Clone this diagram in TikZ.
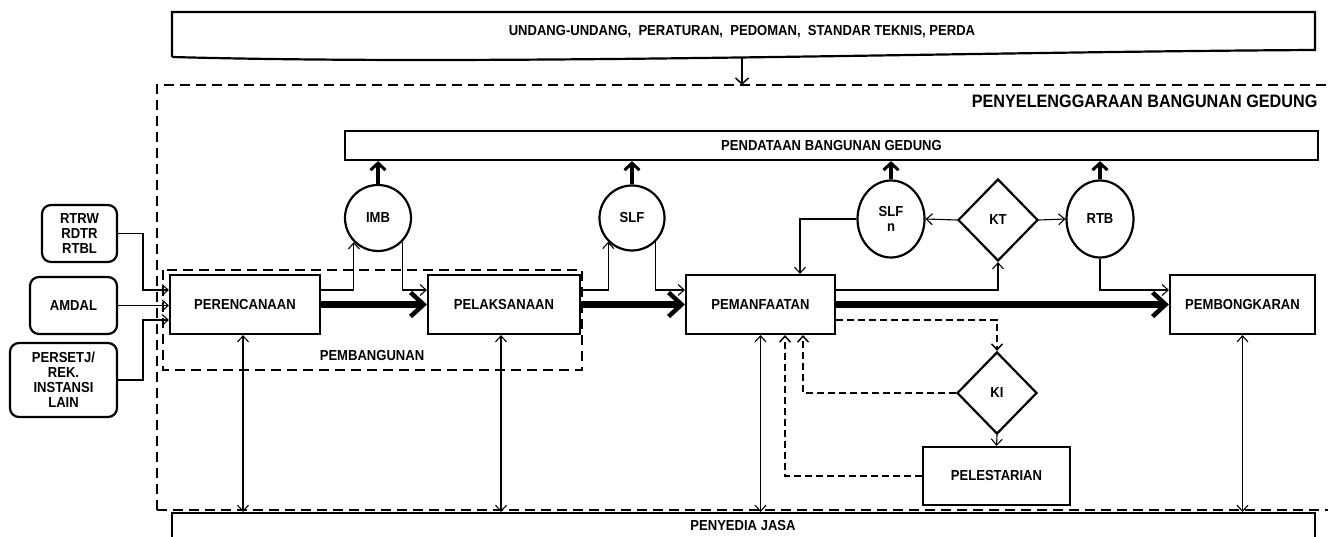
\documentclass[tikz,border=0pt]{standalone}
\usepackage{fontspec}
\setmainfont{Liberation Sans}
\newfontfamily\narrowsans[FakeStretch=0.9]{Liberation Sans}
\usetikzlibrary{arrows.meta,shapes.geometric,calc}
\newcommand\lblfont{\narrowsans\fontsize{14.5}{15}\selectfont\bfseries}
\begin{document}
\begin{tikzpicture}[x=1pt,y=-1pt,
  box/.style={draw, line width=2.2pt, minimum height=59pt, inner sep=0pt, align=center, font=\lblfont},
  rbox/.style={box, rounded corners=9pt},
  circ/.style={draw, line width=2.2pt, ellipse, inner sep=0pt, align=center, font=\lblfont},
  dia/.style={draw, line width=2.2pt, diamond, inner sep=0pt, minimum width=80pt, minimum height=82pt, font=\lblfont},
  arr/.style={line width=1.1pt, -{Straight Barb[length=6pt,width=11pt]}},
  darr/.style={arr, line width=1.5pt, dash pattern=on 7pt off 4pt},
  biarr/.style={line width=1.1pt, {Straight Barb[length=6pt,width=11pt]}-{Straight Barb[length=6pt,width=11pt]}},
  tharr/.style={line width=6.5pt, -{Straight Barb[length=13pt,width=24pt,line width=4.5pt]}},
  uparr/.style={line width=4pt, -{Straight Barb[length=7pt,width=15pt,line width=3pt]}},
  bigdash/.style={line width=2.5pt, dash pattern=on 10pt off 6pt}
]
\useasboundingbox (0,0) rectangle (1328,537);
\fill[white] (0,0) rectangle (1328,537);

% top box with wavy bottom
\draw[line width=2.2pt] (172,57) -- (172,12) -- (1315,12) -- (1315,50) .. controls (950,52) and (500,66) .. (172,57);
\node[font=\lblfont] (law) at (742,32) {UNDANG-UNDANG,\ \ PERATURAN,\ \ PEDOMAN,\ \ STANDAR TEKNIS, PERDA};
\coordinate (lawb) at (742,58);
\coordinate (pbgt) at (742,85);

% big dashed region
\draw[bigdash] (157,510) -- (157,85) -- (1340,85);
\draw[bigdash] (157,510) -- (1340,510);
\node[font=\narrowsans\fontsize{18}{20}\selectfont\bfseries, anchor=east] (pbg) at (1321,101) {PENYELENGGARAAN BANGUNAN GEDUNG};
\draw[line width=1.5pt, -{Straight Barb[length=6pt,width=13pt]}] (lawb) -- (pbgt);

% pembangunan dashed region
\draw[bigdash] (163,270) rectangle (582,370);
\node[font=\lblfont] (pbn) at (372,356) {PEMBANGUNAN};

% pendataan
\node[box, minimum width=973pt, minimum height=29pt] (pend) at (831.5,145.5) {PENDATAAN BANGUNAN GEDUNG};

% penyedia jasa
\node[box, minimum width=1143pt, minimum height=32pt, anchor=north] (pj) at (743.5,512) {};
\node[font=\lblfont] (pjt) at (743,526) {PENYEDIA JASA};

% left inputs
\node[rbox, minimum width=75pt, minimum height=57pt] (rtrw) at (79.5,233.5) {RTRW\\RDTR\\RTBL};
\node[rbox, minimum width=87pt, minimum height=57pt] (amdal) at (73.5,305.5) {AMDAL};
\node[rbox, minimum width=107pt, minimum height=74pt] (pers) at (63.5,380) {PERSETJ/\\REK.\\INSTANSI\\LAIN};

% main boxes
\node[box, minimum width=150pt] (per) at (245,304.5) {PERENCANAAN};
\node[box, minimum width=152pt] (pel) at (504,304.5) {PELAKSANAAN};
\node[box, minimum width=149pt] (pem) at (760.5,304.5) {PEMANFAATAN};
\node[box, minimum width=145pt] (pbk) at (1242.5,304.5) {PEMBONGKARAN};
\node[box, minimum width=147pt, minimum height=58pt] (pls) at (996.5,476) {PELESTARIAN};

% circles and diamonds
\node[circ, minimum width=66pt, minimum height=66pt] (imb) at (378,218) {IMB};
\node[circ, minimum width=65pt, minimum height=65pt] (slf) at (632,218) {SLF};
\node[circ, minimum width=67pt, minimum height=77pt] (slfn) at (891,219) {SLF\\n};
\node[circ, minimum width=67pt, minimum height=77pt] (rtb) at (1100,219) {RTB};
\node[dia] (kt) at (998,220) {KT};
\node[dia] (ki) at (997,393) {KI};

% inputs to perencanaan
\draw[arr] (rtrw.east) -| (143,290) -- ([yshift=14.5pt]per.west);
\draw[arr] (amdal.east) -- (amdal.east -| per.west);
\draw[arr] (pers.east) -| (143,320) -- ([yshift=-15.5pt]per.west);

% main flow
\draw[tharr] (per.east) -- (pel.west);
\draw[tharr] (pel.east) -- (pem.west);
\draw[tharr] (pem.east) -- (pbk.west);

\draw[arr] ([yshift=14.5pt]per.east) -| (imb.south west);
\draw[arr] (imb.south east) |- ([yshift=14.5pt]pel.west);
\draw[arr] ([yshift=14.5pt]pel.east) -| (slf.south west);
\draw[arr] (slf.south east) |- ([yshift=14.5pt]pem.west);
\draw[arr] ([yshift=14.5pt]pem.east) -| (kt.south);
\draw[arr] (kt.west) -- (slfn.east);
\draw[arr] (kt.east) -- (rtb.west);
\draw[arr] (slfn.west) -| ([xshift=39.5pt]pem.north);
\draw[arr] (rtb.south) |- ([yshift=14.5pt]pbk.west);

% conservation loop
\draw[darr] ([yshift=-15.5pt]pem.east) -| (ki.north);
\draw[darr] (ki.west) -| ([xshift=42.5pt]pem.south);
\draw[arr] (ki.south) -- (pls.north);
\draw[darr] (pls.west) -| ([xshift=24.5pt]pem.south);

% to pendataan
\draw[uparr] (imb.north) -- (imb.north |- pend.south);
\draw[uparr] (slf.north) -- (slf.north |- pend.south);
\draw[uparr] (slfn.north) -- (slfn.north |- pend.south);
\draw[uparr] (rtb.north) -- (rtb.north |- pend.south);

% penyedia jasa links
\draw[biarr] ([xshift=-2pt]per.south) -- ([xshift=-2pt]per.south |- pj.north);
\draw[biarr] ([xshift=-3pt]pel.south) -- ([xshift=-3pt]pel.south |- pj.north);
\draw[biarr] (pem.south) -- (pem.south |- pj.north);
\draw[biarr] (pbk.south) -- (pbk.south |- pj.north);
\end{tikzpicture}
\end{document}
